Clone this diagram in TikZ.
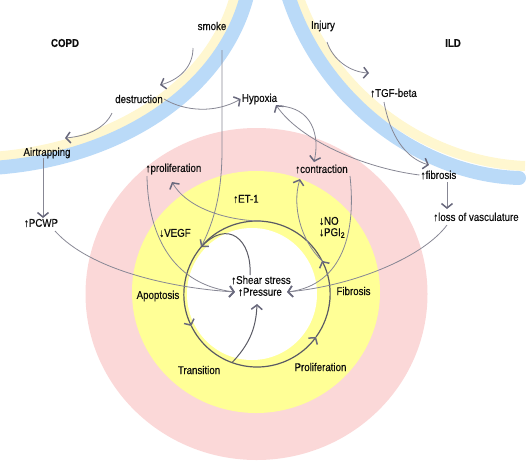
\documentclass[tikz,border=0pt]{standalone}
\usepackage{fontspec}
\setmainfont[FakeStretch=0.86,FakeBold=0.4]{Liberation Sans}
\usetikzlibrary{arrows.meta}
\definecolor{pinkc}{RGB}{251,216,216}
\definecolor{yellowc}{RGB}{255,255,150}
\definecolor{bluec}{RGB}{186,218,248}
\definecolor{creamc}{RGB}{255,247,208}
\definecolor{linec}{RGB}{135,135,148}
\definecolor{tipc}{RGB}{105,105,125}
\definecolor{cycc}{RGB}{90,90,100}
\definecolor{txtc}{RGB}{15,15,15}
\begin{document}
\begin{tikzpicture}[x=1pt,y=-1pt,
  lbl/.style={font=\fontsize{11.3}{12}\selectfont, text=txtc, inner sep=1pt},
  hdr/.style={lbl, font=\fontsize{11.3}{12}\selectfont\bfseries},
  conn/.style={draw=linec, line width=0.8pt, -{Straight Barb[length=4.5pt,width=11pt,line width=1.5pt,color=tipc]}},
  plainline/.style={draw=linec, line width=0.8pt},
  cyc/.style={draw=cycc, line width=1.2pt, -{Straight Barb[length=4.5pt,width=11pt,line width=1.5pt,color=tipc]}}
]
\useasboundingbox (0,0) rectangle (532,464);
\begin{scope}
\clip (0,0) rectangle (532,464);
\fill[pinkc] (256.5,294) ellipse [x radius=171, y radius=166];
\fill[yellowc] (256,292) ellipse [x radius=124, y radius=121];
\fill[white] (252,294) ellipse [x radius=65, y radius=66];
\draw[creamc, line width=10pt] (236,-8) .. controls (213,85) and (115,148) .. (-8,157);
\draw[bluec, line width=14pt] (248,-8) .. controls (225,90) and (120,160) .. (-8,168);
\draw[creamc, line width=10pt] (297,-8) .. controls (330,92) and (425,162) .. (525,166);
\draw[bluec, line width=14pt, line cap=round] (287,-8) .. controls (320,100) and (420,175) .. (519,178);
\end{scope}

% nodes
\node[lbl] (smoke) at (212,26) {smoke};
\node[lbl] (injury) at (323,26) {Injury};
\node[hdr] (copd) at (65,43) {COPD};
\node[hdr] (ild) at (453,43) {ILD};
\node[lbl] (destr) at (139,99) {destruction};
\node[lbl] (hypoxia) at (259.5,99) {Hypoxia};
\node[lbl] (tgf) at (393.5,93) {↑TGF-beta};
\node[lbl] (airtr) at (47,153) {Airtrapping};
\node[lbl] (prolif) at (173.5,169) {↑proliferation};
\node[lbl] (contr) at (321.5,169) {↑contraction};
\node[lbl] (fibr) at (438.5,175) {↑fibrosis};
\node[lbl] (et1) at (246,199) {↑ET-1};
\node[lbl] (pcwp) at (41,223) {↑PCWP};
\node[lbl] (loss) at (476,217) {↑loss of vasculature};
\node[lbl] (vegf) at (175,233) {↓VEGF};
\node[lbl, anchor=west] (no) at (318,221) {↓NO};
\node[lbl, anchor=west] (pgi) at (318,233) {↓PGI\textsubscript{2}};
\node[lbl] (shear) at (261,280) {↑Shear stress};
\node[lbl] (press) at (260,292) {↑Pressure};
\node[lbl] (apop) at (158,296) {Apoptosis};
\node[lbl] (fibro) at (353.5,291) {Fibrosis};
\node[lbl] (trans) at (199,370) {Transition};
\node[lbl] (prolif2) at (320.5,367) {Proliferation};

% cycle circle
\coordinate (cc) at (257,294);
\path (cc) ++(220:73) coordinate (ctl);
\path (cc) ++(274:73) coordinate (ctop);
\path (cc) ++(110:73) coordinate (cbot);
\path (cc) ++(333:73) coordinate (cright);
\path (cc) ++(154:73) coordinate (cleft);
\path (cc) ++(36:73) coordinate (cbr);
\draw[cyc] (cright) arc[start angle=333, end angle=220, radius=73];
\draw[cyc] (ctl) arc[start angle=220, end angle=154, radius=73];
\draw[cyc] (cleft) arc[start angle=154, end angle=36, radius=73];
\draw[cyc] (cbr) arc[start angle=36, end angle=-27, radius=73];

% connectors
\draw[conn] ([shift={(-19,22)}]smoke.center) .. controls +(0,20) and +(18,-5) .. ([shift={(21,-14)}]destr.center);
\draw[conn] ([shift={(-27,14)}]destr.center) .. controls +(-7,15) and +(23,-2) .. ([shift={(18,-15)}]airtr.center);
\draw[conn] ([shift={(-4,5)}]airtr.center) -- ([shift={(2,-5)}]pcwp.center);
\draw[plainline] ([shift={(10,24)}]smoke.center) -- ++(0,100) .. controls +(0,50) and +(10,-20) .. (ctl);
\draw[conn] (destr.east) .. controls +(22,13) and +(-25,14) .. (hypoxia.west);
\draw[conn] ([shift={(4,16)}]injury.center) .. controls +(6,18) and +(-19,-1) .. ([shift={(-24.5,-20)}]tgf.center);
\draw[conn] ([shift={(-9.5,9)}]tgf.center) .. controls +(6,33) and +(-24,-7) .. ([shift={(-9.5,-10)}]fibr.center);
\draw[conn] ([shift={(8.5,7)}]fibr.center) -- ([shift={(-29,-8)}]loss.center);
\draw[conn] (fibr.west) .. controls +(-56,-7) and +(24,35) .. ([shift={(16.5,6)}]hypoxia.center);
\draw[conn] ([shift={(20.5,7)}]hypoxia.center) .. controls +(32,2) and +(6,-27) .. ([shift={(-7.5,-7)}]contr.center);
\draw[conn] ([shift={(14,8)}]pcwp.center) .. controls +(35,39) and +(-64,-4) .. ([xshift=-2]press.west);
\draw[conn] ([shift={(-26.5,7)}]prolif.center) .. controls +(1,64) and +(-59,-7) .. ([xshift=-2]press.west);
\draw[conn] (ctop) .. controls +(-42,-1) and +(13,23) .. ([shift={(-1.5,13)}]prolif.center);
\draw[conn] ([shift={(28.5,7)}]contr.center) .. controls +(6,54) and +(57,-7) .. ([xshift=4]press.east);
\draw[conn] ([shift={(-29,8)}]loss.center) .. controls +(-22,30) and +(72,-7) .. ([xshift=4]press.east);
\draw[plainline, draw=cycc, line width=1pt] ([shift={(-11,-5)}]shear.center) .. controls +(2,-35) and +(27,-29) .. (ctl);
\draw[conn, draw=cycc, line width=1pt] (cbot) .. controls +(16,-17) and +(-1,26) .. ([shift={(-3,12)}]press.center);
\draw[conn] (cright) .. controls +(-22,-21) and +(-8,26) .. ([shift={(-21.5,10)}]contr.center);
\end{tikzpicture}
\end{document}
